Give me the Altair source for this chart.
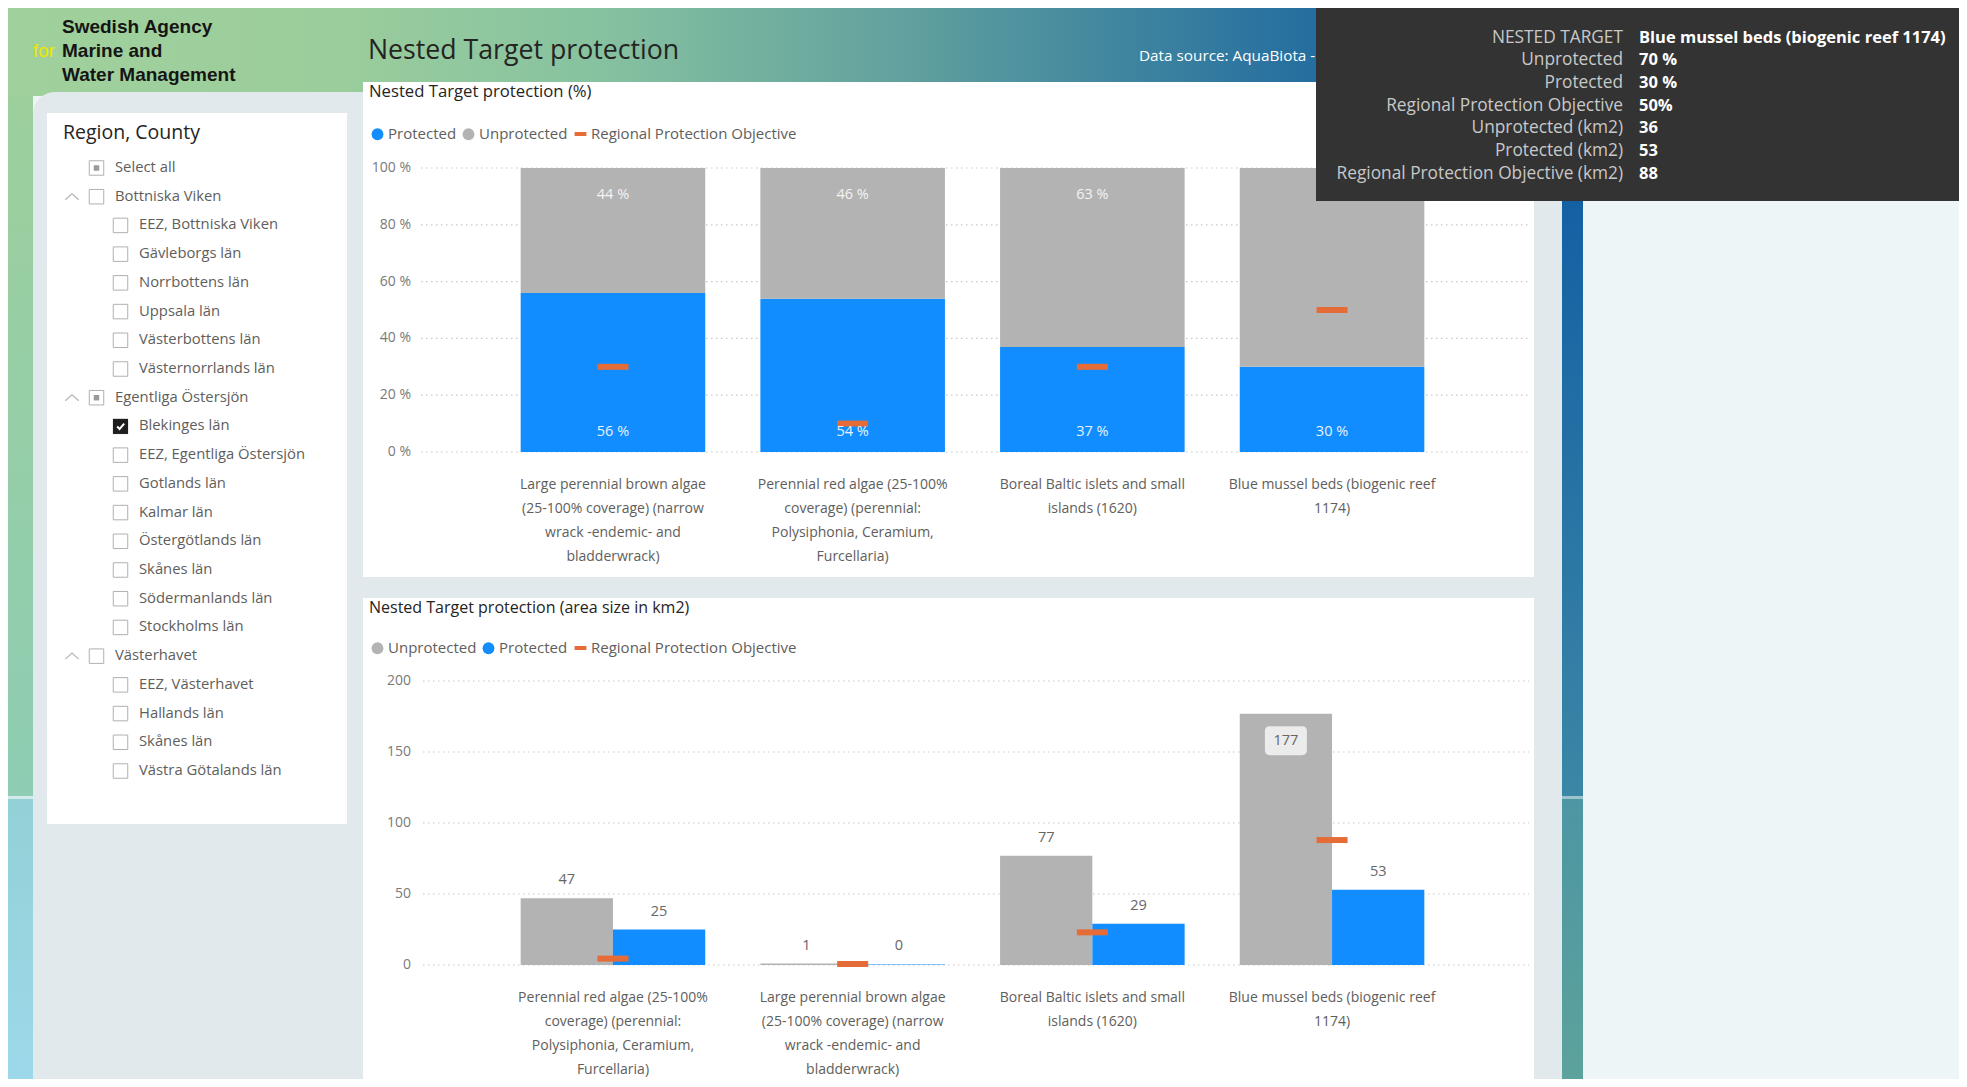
import altair as alt
import pandas as pd

# ============================ DATA ============================
TOP_CATEGORIES = [
    "Large perennial brown algae\n(25-100% coverage) (narrow\nwrack -endemic- and\nbladderwrack)",
    "Perennial red algae (25-100%\ncoverage) (perennial:\nPolysiphonia, Ceramium,\nFurcellaria)",
    "Boreal Baltic islets and small\nislands (1620)",
    "Blue mussel beds (biogenic reef\n1174)",
]
TOP_PROTECTED = [56, 54, 37, 30]
TOP_UNPROTECTED = [44, 46, 63, 70]
TOP_OBJECTIVE = [30, 10, 30, 50]
TOP_TICKS = [0, 20, 40, 60, 80, 100]

BOTTOM_CATEGORIES = [
    "Perennial red algae (25-100%\ncoverage) (perennial:\nPolysiphonia, Ceramium,\nFurcellaria)",
    "Large perennial brown algae\n(25-100% coverage) (narrow\nwrack -endemic- and\nbladderwrack)",
    "Boreal Baltic islets and small\nislands (1620)",
    "Blue mussel beds (biogenic reef\n1174)",
]
BOTTOM_UNPROTECTED = [47, 1, 77, 177]
BOTTOM_PROTECTED = [25, 0.4, 29, 53]
BOTTOM_OBJECTIVE = [4.5, 0.7, 23, 88]
BOTTOM_TICKS = [0, 50, 100, 150, 200]

SERIES_TOP = ["Protected", "Unprotected"]
SERIES_BOTTOM = ["Unprotected", "Protected"]
OBJECTIVE_NAME = "Regional Protection Objective"

REGION_ITEMS = [
    "Select all", "Bottniska Viken", "EEZ, Bottniska Viken", "Gävleborgs län",
    "Norrbottens län", "Uppsala län", "Västerbottens län", "Västernorrlands län",
    "Egentliga Östersjön", "Blekinges län", "EEZ, Egentliga Östersjön", "Gotlands län",
    "Kalmar län", "Östergötlands län", "Skånes län", "Södermanlands län",
    "Stockholms län", "Västerhavet", "EEZ, Västerhavet", "Hallands län",
    "Skånes län", "Västra Götalands län",
]
REGION_LEVELS = [1, 1, 2, 2, 2, 2, 2, 2, 1, 2, 2, 2, 2, 2, 2, 2, 2, 1, 2, 2, 2, 2]
REGION_STATES = ["partial", "none", "none", "none", "none", "none", "none", "none",
                 "partial", "checked", "none", "none", "none", "none", "none", "none",
                 "none", "none", "none", "none", "none", "none"]
REGION_HEADERS = [False, True, False, False, False, False, False, False,
                  True, False, False, False, False, False, False, False,
                  False, True, False, False, False, False]

TOOLTIP_FIELDS = ["NESTED TARGET", "Unprotected", "Protected", "Regional Protection Objective",
                  "Unprotected (km2)", "Protected (km2)", "Regional Protection Objective (km2)"]
TOOLTIP_VALUES = ["Blue mussel beds (biogenic reef 1174)", "70 %", "30 %", "50%", "36", "53", "88"]

PAGE_TITLE = "Nested Target protection"
DATA_SOURCE = "Data source: AquaBiota -"
TOP_TITLE = "Nested Target protection (%)"
BOTTOM_TITLE = "Nested Target protection (area size in km2)"
SIDEBAR_TITLE = "Region, County"
LOGO_LINES = ["Swedish Agency", "Marine and", "Water Management"]
LOGO_FOR = "for"

# ============================ STYLE ============================
FONT = "Open Sans"
LOGO_FONT = "Liberation Sans"
BLUE, GRAY, ORANGE = "#118DFF", "#B3B3B3", "#E66C37"
GRID = "#c8c8c8"
DARK = "#252423"
LABEL = "#605e5c"
AXIS_TXT = "#7a7a7a"
PANEL_GRAY = "#e1e9ec"
BG = "#eef5f6"
W, H = 1951, 1071
DASH_PATH = "M-1,-0.34L1,-0.34L1,0.34L-1,0.34Z"
BOX_PATH = ("M-0.76,-0.69L0.76,-0.69Q1,-0.69 1,-0.45L1,0.45Q1,0.69 0.76,0.69"
            "L-0.76,0.69Q-1,0.69 -1,0.45L-1,-0.45Q-1,-0.69 -0.76,-0.69Z")
CARET_PATH = "M-1,0.45L0,-0.45L1,0.45"
CHECK_PATH = "M-0.55,0.02L-0.15,0.42L0.6,-0.45"


def px(v):
    return v - 8


DUMMY = alt.Data(values=[{"k": 0}])


def rect(x1, y1, x2, y2, fill, **kw):
    return alt.Chart(DUMMY).mark_rect(fill=fill, **kw).encode(
        x=alt.value(px(x1)), x2=alt.value(px(x2)), y=alt.value(px(y1)), y2=alt.value(px(y2)))


def grad(stops, vertical=False):
    return alt.Gradient(gradient="linear",
                        stops=[alt.GradientStop(color=c, offset=o) for o, c in stops],
                        x1=0, y1=0, x2=0 if vertical else 1, y2=1 if vertical else 0)


def text(t, x, y, size, color, weight="normal", align="left", font=FONT, baseline="alphabetic"):
    return alt.Chart(DUMMY).mark_text(text=t, font=font, fontSize=size, fontWeight=weight,
                                      color=color, align=align, baseline=baseline).encode(
        x=alt.value(px(x)), y=alt.value(px(y)))


def make_legend(x, y, symbol, pad=4):
    return alt.Legend(
        orient="none", legendX=px(x), legendY=px(y), direction="horizontal", title=None,
        labelFont=FONT, labelFontSize=15, labelColor=LABEL, labelLimit=400,
        symbolType=symbol, symbolSize=140, symbolStrokeWidth=0, symbolOpacity=1,
        columnPadding=pad, labelOffset=3, padding=0,
    )


# ============================ BACKGROUND ============================
bg_layers = [
    rect(8, 4, 1583, 96, grad([(0, "#a0d19c"), (0.21, "#9bcd9c"), (0.376, "#86c2a0"),
                               (0.566, "#62a19e"), (0.725, "#3c82a0"), (0.839, "#226c9f"),
                               (1, "#0d5ba6")])),
    rect(8, 96, 33, 796, grad([(0, "#9ccf9c"), (1, "#8ecdb3")], vertical=True)),
    rect(8, 796, 33, 799, "#d3eaea"),
    rect(8, 799, 33, 1087, grad([(0, "#92d1d6"), (1, "#9dd9eb")], vertical=True)),
    rect(33, 92, 1562, 1087, PANEL_GRAY, cornerRadiusTopLeft=22),
    rect(1562, 82, 1583, 796, grad([(0, "#0c58a3"), (1, "#3b87a6")], vertical=True)),
    rect(1562, 796, 1583, 799, "#9cc4cc"),
    rect(1562, 799, 1583, 1087, grad([(0, "#4d96a3"), (1, "#5da29b")], vertical=True)),
    rect(47, 113, 347, 824, "white"),
    rect(363, 82, 1534, 577, "white"),
    rect(363, 598, 1534, 1087, "white"),
]

text_layers = [
    text(LOGO_LINES[0], 62, 33, 19, "#151515", weight="bold", font=LOGO_FONT),
    text(LOGO_LINES[1], 62, 57, 19, "#151515", weight="bold", font=LOGO_FONT),
    text(LOGO_LINES[2], 62, 81, 19, "#151515", weight="bold", font=LOGO_FONT),
    text(LOGO_FOR, 33, 57, 19, "#efe600", font=LOGO_FONT),
    text(PAGE_TITLE, 368, 59, 26.7, DARK),
    text(DATA_SOURCE, 1139, 61, 15.3, "white"),
    text(TOP_TITLE, 369, 97, 16.7, DARK),
    text(BOTTOM_TITLE, 369, 613, 16, DARK),
    text(SIDEBAR_TITLE, 63, 139, 19.5, DARK),
]

# ============================ TOP CHART ============================
top_rows = []
for c, p, u in zip(TOP_CATEGORIES, TOP_PROTECTED, TOP_UNPROTECTED):
    top_rows.append({"category": c, "series": "Protected", "value": p, "rank": 0})
    top_rows.append({"category": c, "series": "Unprotected", "value": u, "rank": 1})
top_df = pd.DataFrame(top_rows)
top_obj_df = pd.DataFrame({"category": TOP_CATEGORIES, "objective": TOP_OBJECTIVE,
                           "series": OBJECTIVE_NAME})
top_tick_df = pd.DataFrame({"tick": TOP_TICKS})
top_cat_df = pd.DataFrame({"category": TOP_CATEGORIES})

top_x = alt.Scale(domain=TOP_CATEGORIES, range=[px(420), px(1525)], paddingInner=0.23, paddingOuter=0.42)
top_y = alt.Scale(domain=[0, 100], range=[px(452), px(168)], nice=False, zero=True)
top_color = alt.Scale(domain=SERIES_TOP, range=[BLUE, GRAY])
obj_fill = alt.Scale(domain=[OBJECTIVE_NAME], range=[ORANGE])

top_grid = alt.Chart(top_tick_df).mark_rule(color=GRID, strokeDash=[1.5, 3.5], strokeWidth=1.2).encode(
    y=alt.Y("tick:Q", scale=top_y, axis=None), x=alt.value(px(421)), x2=alt.value(px(1529)))
top_ylab = alt.Chart(top_tick_df).transform_calculate(lab="datum.tick + ' %'").mark_text(
    align="right", baseline="middle", font=FONT, fontSize=14, color=AXIS_TXT).encode(
    y=alt.Y("tick:Q", scale=top_y, axis=None), x=alt.value(px(411)), text="lab:N")
top_bars = alt.Chart(top_df).mark_bar().encode(
    x=alt.X("category:N", scale=top_x, axis=None),
    y=alt.Y("value:Q", scale=top_y, axis=None, stack="zero"),
    color=alt.Color("series:N", scale=top_color, legend=make_legend(370, 126.5, "circle")),
    order=alt.Order("rank:Q"))
top_obj = alt.Chart(top_obj_df).mark_tick(thickness=6, size=31, opacity=1).encode(
    x=alt.X("category:N", scale=top_x, axis=None),
    y=alt.Y("objective:Q", scale=top_y, axis=None, stack=None),
    fill=alt.Fill("series:N", scale=obj_fill, legend=make_legend(573, 126.5, DASH_PATH)))
top_lab_u = alt.Chart(top_df).transform_joinaggregate(
    total="sum(value)", groupby=["category"]).transform_filter(
    "datum.series === 'Unprotected'").transform_calculate(lab="datum.value + ' %'").mark_text(
    baseline="middle", dy=27, font=FONT, fontSize=14.5, color="#f4f4f4").encode(
    x=alt.X("category:N", scale=top_x, axis=None),
    y=alt.Y("total:Q", scale=top_y, axis=None), text="lab:N")
top_lab_p = alt.Chart(top_df).transform_filter("datum.series === 'Protected'").transform_calculate(
    lab="datum.value + ' %'", base="0").mark_text(
    baseline="middle", dy=-20, font=FONT, fontSize=14.5, color="#e8f2ff").encode(
    x=alt.X("category:N", scale=top_x, axis=None),
    y=alt.Y("base:Q", scale=top_y, axis=None), text="lab:N")
top_xlab = alt.Chart(top_cat_df).mark_text(
    baseline="alphabetic", align="center", lineBreak="\n", lineHeight=24,
    font=FONT, fontSize=14, color=LABEL).encode(
    x=alt.X("category:N", scale=top_x, axis=None), y=alt.value(px(489)), text="category:N")

top_group = alt.layer(top_grid, top_ylab, top_bars, top_obj, top_lab_u, top_lab_p, top_xlab)

# ============================ BOTTOM CHART ============================
bot_rows = []
for c, u, p in zip(BOTTOM_CATEGORIES, BOTTOM_UNPROTECTED, BOTTOM_PROTECTED):
    bot_rows.append({"category": c, "series": "Unprotected", "value": u})
    bot_rows.append({"category": c, "series": "Protected", "value": p})
bot_df = pd.DataFrame(bot_rows)
bot_obj_df = pd.DataFrame({"category": BOTTOM_CATEGORIES, "objective": BOTTOM_OBJECTIVE,
                           "series": OBJECTIVE_NAME})
bot_tick_df = pd.DataFrame({"tick": BOTTOM_TICKS})
bot_cat_df = pd.DataFrame({"category": BOTTOM_CATEGORIES})

bot_x = alt.Scale(domain=BOTTOM_CATEGORIES, range=[px(420), px(1525)], paddingInner=0.23, paddingOuter=0.42)
bot_xo = alt.Scale(domain=["Unprotected", "Protected"], paddingInner=0, paddingOuter=0)
bot_y = alt.Scale(domain=[0, 200], range=[px(965), px(681)], nice=False, zero=True)
bot_color = alt.Scale(domain=SERIES_BOTTOM, range=[GRAY, BLUE])

bot_grid = alt.Chart(bot_tick_df).mark_rule(color=GRID, strokeDash=[1.5, 3.5], strokeWidth=1.2).encode(
    y=alt.Y("tick:Q", scale=bot_y, axis=None), x=alt.value(px(423)), x2=alt.value(px(1529)))
bot_ylab = alt.Chart(bot_tick_df).mark_text(
    align="right", baseline="middle", font=FONT, fontSize=14, color=AXIS_TXT).encode(
    y=alt.Y("tick:Q", scale=bot_y, axis=None), x=alt.value(px(411)), text="tick:Q")
bot_bars = alt.Chart(bot_df).mark_bar().encode(
    x=alt.X("category:N", scale=bot_x, axis=None),
    xOffset=alt.XOffset("series:N", scale=bot_xo),
    y=alt.Y("value:Q", scale=bot_y, axis=None, stack=None),
    color=alt.Color("series:N", scale=bot_color, legend=make_legend(370, 640.5, "circle")))
bot_obj = alt.Chart(bot_obj_df).mark_tick(thickness=6, size=31, opacity=1).encode(
    x=alt.X("category:N", scale=bot_x, axis=None),
    y=alt.Y("objective:Q", scale=bot_y, axis=None, stack=None),
    fill=alt.Fill("series:N", scale=obj_fill, legend=make_legend(573, 640.5, DASH_PATH)))
bot_lab_out = alt.Chart(bot_df).transform_filter("datum.value < 150").transform_calculate(
    lab="format(datum.value, '.0f')").mark_text(
    baseline="middle", dy=-18, font=FONT, fontSize=14.5, color="#666666").encode(
    x=alt.X("category:N", scale=bot_x, axis=None),
    xOffset=alt.XOffset("series:N", scale=bot_xo),
    y=alt.Y("value:Q", scale=bot_y, axis=None, stack=None), text="lab:N")
bot_box = alt.Chart(bot_df).transform_filter("datum.value >= 150").mark_point(
    shape=BOX_PATH, filled=True, color="#ececec", opacity=1, size=1764).encode(
    x=alt.X("category:N", scale=bot_x, axis=None),
    xOffset=alt.XOffset("series:N", scale=bot_xo),
    y=alt.Y("value:Q", scale=bot_y, axis=None, stack=None),
    yOffset=alt.value(27))
bot_lab_in = alt.Chart(bot_df).transform_filter("datum.value >= 150").transform_calculate(
    lab="format(datum.value, '.0f')").mark_text(
    baseline="middle", dy=27, font=FONT, fontSize=14.5, color="#666666").encode(
    x=alt.X("category:N", scale=bot_x, axis=None),
    xOffset=alt.XOffset("series:N", scale=bot_xo),
    y=alt.Y("value:Q", scale=bot_y, axis=None, stack=None), text="lab:N")
bot_xlab = alt.Chart(bot_cat_df).mark_text(
    baseline="alphabetic", align="center", lineBreak="\n", lineHeight=24,
    font=FONT, fontSize=14, color=LABEL).encode(
    x=alt.X("category:N", scale=bot_x, axis=None), y=alt.value(px(1002)), text="category:N")

bot_group = alt.layer(bot_grid, bot_ylab, bot_bars, bot_obj, bot_lab_out, bot_box, bot_lab_in, bot_xlab)

# ============================ SIDEBAR ============================
side_df = pd.DataFrame({"row": list(range(len(REGION_ITEMS))), "item": REGION_ITEMS,
                        "level": REGION_LEVELS, "state": REGION_STATES, "header": REGION_HEADERS})
N_ROWS = len(REGION_ITEMS)


def side_y():
    return alt.Y("row:Q", scale=alt.Scale(domain=[0, N_ROWS - 1], range=[px(168), px(771)]), axis=None)


def box_x():
    return alt.X("level:Q", scale=alt.Scale(domain=[1, 2], range=[px(96.5), px(120.5)]), axis=None)


side_text = alt.Chart(side_df).mark_text(align="left", baseline="middle", font=FONT,
                                         fontSize=14.8, color=LABEL).encode(
    x=alt.X("level:Q", scale=alt.Scale(domain=[1, 2], range=[px(115), px(139)]), axis=None),
    y=side_y(), text="item:N")
side_boxes = alt.Chart(side_df).mark_point(shape="square", filled=False, stroke="#b0b0b0",
                                           strokeWidth=1, size=210, opacity=1).encode(
    x=box_x(), y=side_y())
side_partial = alt.Chart(side_df).transform_filter("datum.state === 'partial'").mark_point(
    shape="square", filled=True, color="#9a9a9a", size=30, opacity=1).encode(x=box_x(), y=side_y())
side_checked = alt.Chart(side_df).transform_filter("datum.state === 'checked'").mark_point(
    shape="square", filled=True, color="#1e1e1e", size=225, opacity=1).encode(x=box_x(), y=side_y())
side_tick = alt.Chart(side_df).transform_filter("datum.state === 'checked'").mark_point(
    shape=CHECK_PATH, filled=False, stroke="white", strokeWidth=2, size=150, opacity=1).encode(
    x=box_x(), y=side_y())
side_caret = alt.Chart(side_df).transform_filter("datum.header").mark_point(
    shape=CARET_PATH, filled=False, stroke="#b5b5b5", strokeWidth=1.2, size=180, opacity=1).encode(
    x=alt.value(px(72)), y=side_y())

# ============================ TOOLTIP ============================
tt_df = pd.DataFrame({"row": list(range(len(TOOLTIP_FIELDS))), "field": TOOLTIP_FIELDS,
                      "value": TOOLTIP_VALUES})
tt_y = alt.Y("row:Q", scale=alt.Scale(domain=[0, len(TOOLTIP_FIELDS) - 1],
                                      range=[px(37.5), px(173.5)]), axis=None)
tt_box = rect(1316, 4, 1967, 201, "#333333")
tt_fields = alt.Chart(tt_df).mark_text(align="right", baseline="middle", font=FONT,
                                       fontSize=17.3, color="#c8c8c8").encode(
    x=alt.value(px(1623)), y=tt_y, text="field:N")
tt_values = alt.Chart(tt_df).mark_text(align="left", baseline="middle", font=FONT,
                                       fontSize=16.5, fontWeight="bold", color="white").encode(
    x=alt.value(px(1639)), y=tt_y, text="value:N")

# ============================ COMPOSE ============================
chart = alt.layer(
    *bg_layers, *text_layers,
    top_group, bot_group,
    side_text, side_boxes, side_partial, side_checked, side_tick, side_caret,
    tt_box, tt_fields, tt_values,
).resolve_scale(
    x="independent", y="independent", color="independent", fill="independent"
).resolve_legend(color="independent", fill="independent").properties(
    width=W, height=H, autosize=alt.AutoSizeParams(type="none"), padding=0,
).configure(background=BG).configure_view(stroke=None)

chart.save("out.html", embed_options={"renderer": "svg", "actions": False})
